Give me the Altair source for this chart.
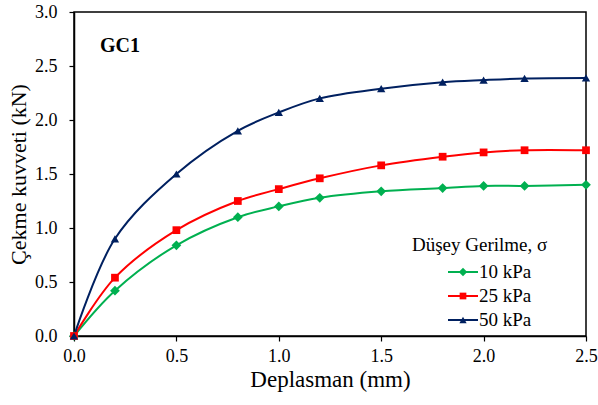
import altair as alt
import pandas as pd

# Pull-out test, sample GC1: displacement vs. pull-out force at three normal stresses
displacement = [0.0, 0.2, 0.5, 0.8, 1.0, 1.2, 1.5, 1.8, 2.0, 2.2, 2.5]
force_10kpa = [0.0, 0.42, 0.84, 1.10, 1.20, 1.28, 1.34, 1.37, 1.39, 1.39, 1.40]
force_25kpa = [0.0, 0.54, 0.98, 1.25, 1.36, 1.46, 1.58, 1.66, 1.70, 1.72, 1.72]
force_50kpa = [0.0, 0.90, 1.50, 1.90, 2.07, 2.20, 2.29, 2.35, 2.37, 2.385, 2.39]

series_names = ["10 kPa", "25 kPa", "50 kPa"]
series_colors = ["#00B050", "#FF0000", "#002060"]
marker_shapes = ["diamond", "square", "triangle-up"]
marker_sizes = [95, 60, 70]

x_ticks = [0.0, 0.5, 1.0, 1.5, 2.0, 2.5]
y_ticks = [0.0, 0.5, 1.0, 1.5, 2.0, 2.5, 3.0]

legend_title = "Düşey Gerilme, σ"

rows = []
for name, values in zip(series_names, [force_10kpa, force_25kpa, force_50kpa]):
    for d, f in zip(displacement, values):
        rows.append({"Deplasman": d, "Kuvvet": f, "Seri": name})
df = pd.DataFrame(rows)

FONT = "'Liberation Serif', 'DejaVu Serif', serif"

x_enc = alt.X(
    "Deplasman:Q",
    scale=alt.Scale(domain=[0, 2.5], nice=False),
    axis=alt.Axis(values=x_ticks, format=".1f", title="Deplasman (mm)",
                  titleFontSize=23),
)
y_enc = alt.Y(
    "Kuvvet:Q",
    scale=alt.Scale(domain=[0, 3.0], nice=False),
    axis=alt.Axis(values=y_ticks, format=".1f", title="Çekme kuvveti (kN)",
                  titleFontSize=22),
)
color_scale = alt.Scale(domain=series_names, range=series_colors)
color_enc = alt.Color("Seri:N", scale=color_scale, legend=None)

base = alt.Chart(df)

lines = base.mark_line(interpolate="catmull-rom", strokeWidth=2).encode(
    x=x_enc, y=y_enc, color=color_enc, detail="Seri:N"
)

layers = [lines]
for name, shape, size in zip(series_names, marker_shapes, marker_sizes):
    layers.append(
        base.transform_filter(alt.datum.Seri == name)
        .mark_point(shape=shape, size=size, filled=True, opacity=1, strokeWidth=0)
        .encode(x=x_enc, y=y_enc, color=color_enc)
    )

# legend block in the lower right of the plot: title, then line + marker + label per series
layers.append(
    alt.Chart(pd.DataFrame({"t": [legend_title]}))
    .mark_text(font=FONT, fontSize=19, align="left", baseline="middle", color="black")
    .encode(text="t:N", x=alt.value(338), y=alt.value(233))
)
row_y = [260, 284, 308]
for name, shape, size, yy in zip(series_names, marker_shapes, marker_sizes, row_y):
    entry = alt.Chart(pd.DataFrame({"Seri": [name]}))
    layers.append(
        entry.mark_rule(strokeWidth=2).encode(
            x=alt.value(374), x2=alt.value(404), y=alt.value(yy), color=color_enc
        )
    )
    layers.append(
        entry.mark_point(shape=shape, size=size * 0.75, filled=True, opacity=1, strokeWidth=0)
        .encode(x=alt.value(389), y=alt.value(yy), color=color_enc)
    )
    layers.append(
        entry.mark_text(font=FONT, fontSize=19, align="left", baseline="middle", color="black")
        .encode(text="Seri:N", x=alt.value(405), y=alt.value(yy))
    )

layers.append(
    alt.Chart(pd.DataFrame({"t": ["GC1"]}))
    .mark_text(font=FONT, fontSize=20, fontWeight="bold", align="left",
               baseline="middle", color="black")
    .encode(text="t:N", x=alt.value(26), y=alt.value(34))
)

chart = (
    alt.layer(*layers)
    .properties(
        width=512,
        height=324,
        autosize=alt.AutoSizeParams(type="none"),
        padding={"left": 74, "top": 12, "right": 12, "bottom": 69},
        background="white",
    )
    .configure_view(stroke="black", strokeWidth=1.5)
    .configure_axis(
        grid=False,
        domainColor="black",
        domainWidth=1.5,
        tickColor="black",
        tickWidth=1.2,
        tickSize=5,
        labelFlush=False,
        labelFont=FONT,
        labelFontSize=18,
        labelColor="black",
        titleFont=FONT,
        titleFontWeight="normal",
        titleColor="black",
    )
    .configure_axisX(labelPadding=6, titlePadding=3)
    .configure_axisY(labelPadding=12, titlePadding=4)
)

chart.save("out.html", embed_options={"renderer": "svg", "actions": False})
